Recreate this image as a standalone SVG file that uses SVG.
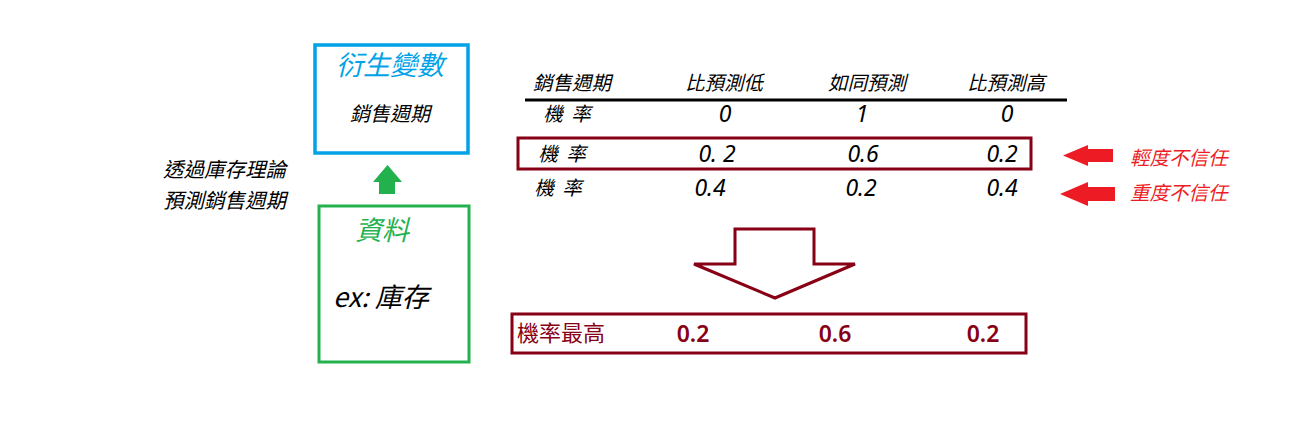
<svg xmlns="http://www.w3.org/2000/svg" width="1298" height="424" viewBox="0 0 1298 424">
<style>
text{font-family:"Noto Sans CJK TC","Noto Sans",sans-serif;font-style:italic}
.t{font-size:19.5px;fill:#000;text-anchor:middle}
.n{font-family:"Noto Sans","DejaVu Sans",sans-serif;font-size:23px;fill:#000;text-anchor:middle}
.red{font-size:19.5px;fill:#ed1c24}
.m{fill:none;stroke:#880015;stroke-width:3}
.b{font-family:"Noto Sans",sans-serif;font-style:normal;font-size:23px;fill:#880015;font-weight:600;text-anchor:middle}
</style>
<rect width="1298" height="424" fill="#fff"/>
<g id="left-text">
<text x="163" y="177" font-size="20.5">透過庫存理論</text>
<text x="163" y="208" font-size="20.5">預測銷售週期</text>
</g>
<g id="derived">
<rect x="315" y="45" width="153" height="108" fill="none" stroke="#00a2e8" stroke-width="3.5"/>
<text x="390" y="75" font-size="27" fill="#00a2e8" text-anchor="middle">衍生變數</text>
<text x="390" y="121" font-size="20" text-anchor="middle">銷售週期</text>
</g>
<g id="data">
<rect x="319" y="206" width="150" height="156" fill="none" stroke="#22b14c" stroke-width="3"/>
<text x="382" y="240" font-size="27" fill="#22b14c" text-anchor="middle">資料</text>
<text x="333" y="307" font-size="27">ex: 庫存</text>
</g>
<g id="connectors">
<polygon points="387.5,165 402,182 395,182 395,194 379,194 379,182 373,182" fill="#22b14c"/>
<polygon points="1063,155.5 1088,145 1088,149 1113,149 1113,162 1088,162 1088,166" fill="#ed1c24"/>
<polygon points="1060,194 1088,182 1088,187 1115,187 1115,201 1088,201 1088,206" fill="#ed1c24"/>
<polygon class="m" points="735,229 814,229 814,264 855,264 775,298 694,264 735,264"/>
</g>
<g id="table">
<text class="t" x="572" y="90">銷售週期</text>
<text class="t" x="724" y="90">比預測低</text>
<text class="t" x="867" y="90">如同預測</text>
<text class="t" x="1006" y="90">比預測高</text>
<line x1="525" y1="100" x2="1067" y2="100" stroke="#000" stroke-width="3"/>
<text class="t" x="567" y="121" xml:space="preserve">機  率</text>
<text class="n" x="725" y="122">0</text>
<text class="n" x="862" y="122">1</text>
<text class="n" x="1007" y="122">0</text>
<rect class="m" x="518" y="138" width="513" height="31"/>
<text class="t" x="562" y="161" xml:space="preserve">機  率</text>
<text class="n" x="717" y="162">0. 2</text>
<text class="n" x="863" y="162">0.6</text>
<text class="n" x="1002" y="162">0.2</text>
<text class="t" x="558" y="195" xml:space="preserve">機  率</text>
<text class="n" x="710" y="196">0.4</text>
<text class="n" x="861" y="196">0.2</text>
<text class="n" x="1002" y="196">0.4</text>
</g>
<g id="labels">
<text class="red" x="1130" y="165">輕度不信任</text>
<text class="red" x="1130" y="200">重度不信任</text>
</g>
<g id="result">
<rect class="m" x="512" y="314" width="514" height="39"/>
<text x="517" y="341" font-size="22" fill="#880015" style="font-style:normal">機率最高</text>
<text class="b" x="693" y="342">0.2</text>
<text class="b" x="835" y="342">0.6</text>
<text class="b" x="983" y="342">0.2</text>
</g>
</svg>
